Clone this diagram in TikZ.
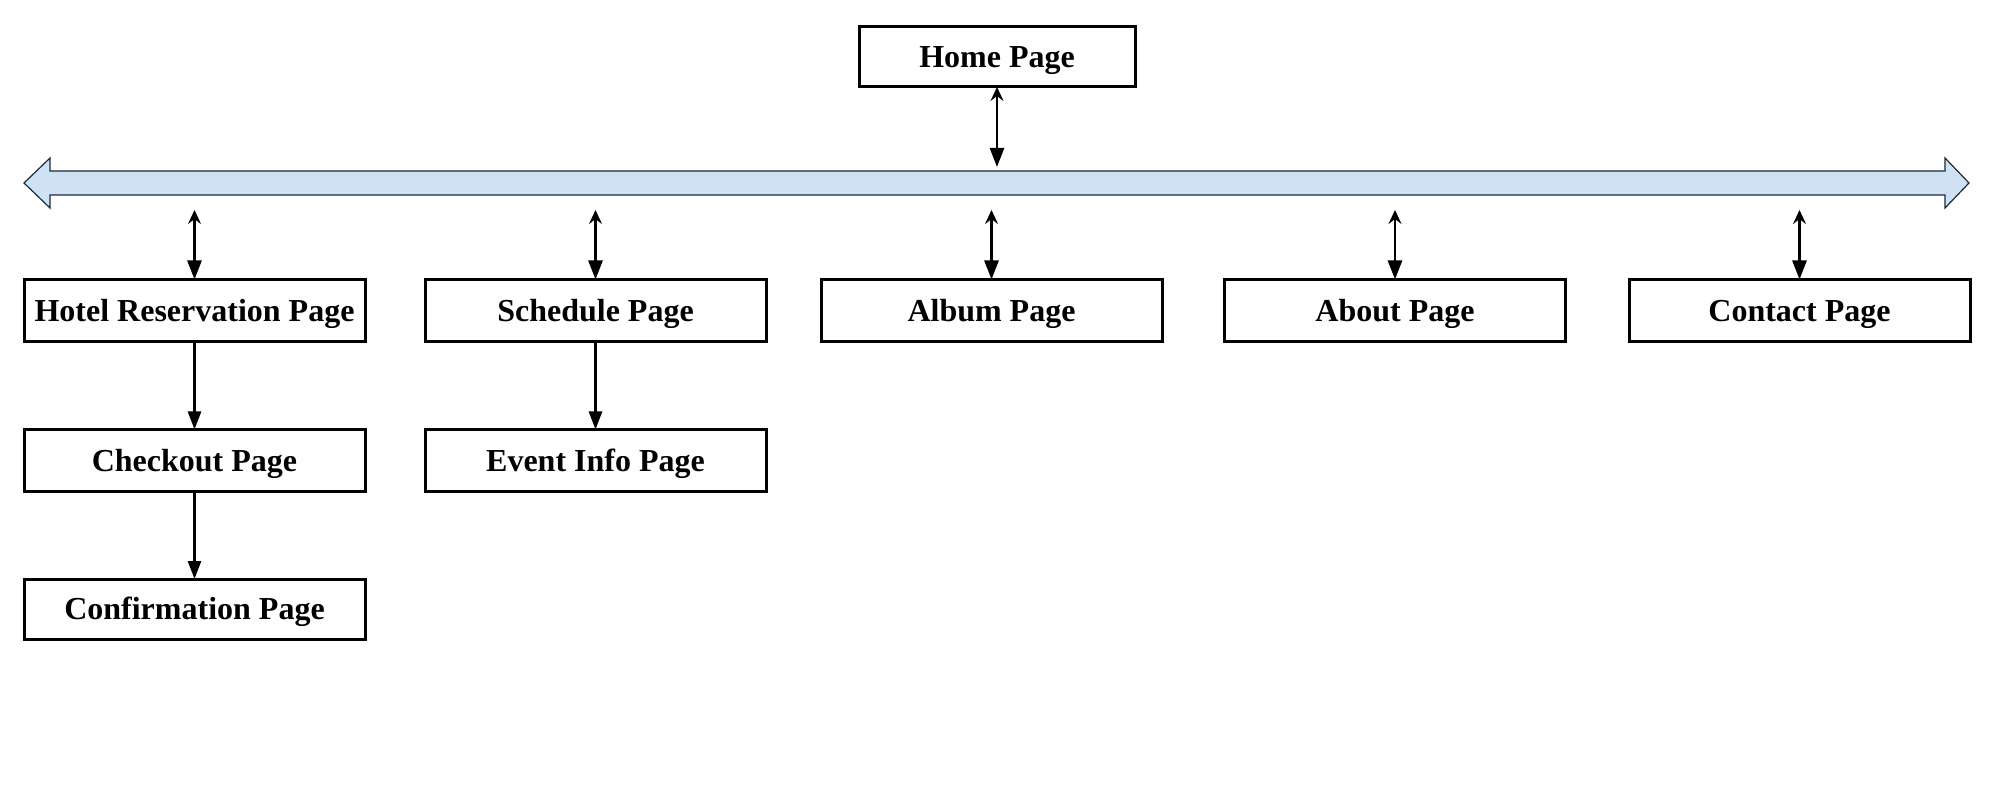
\documentclass[tikz,border=0pt]{standalone}
\usepackage{fontspec}
\setmainfont{Liberation Serif}
\usetikzlibrary{arrows.meta}
\definecolor{busfill}{HTML}{CFE2F3}
\definecolor{busline}{HTML}{1B2A38}
\begin{document}
\begin{tikzpicture}[x=0.5pt,y=-0.5pt,
  page/.style={draw, line width=1.5pt, minimum width=170.5pt, minimum height=31pt,
    inner sep=0pt, outer sep=0pt, text height=10.6pt, text depth=0pt,
    font=\fontsize{16}{19}\selectfont\bfseries},
  link/.style={line width=1.3pt, -{Triangle[length=9pt,width=6.5pt]}},
  twoway/.style={line width=1.3pt,
    {Stealth[length=7pt,width=6.5pt,inset=2.5pt]}-{Triangle[length=9.5pt,width=7pt]}},
]
\useasboundingbox (0,0) rectangle (1994,802);

% navigation bus
\draw[fill=busfill, draw=busline, line width=0.6pt]
  (24,183) -- (50,158) -- (50,171) -- (1945,171) -- (1945,158) -- (1969,183)
  -- (1945,208) -- (1945,195) -- (50,195) -- (50,208) -- cycle;
\coordinate (busTop) at (0,167);
\coordinate (tap) at (0,210);

% pages
\node[page, minimum width=138pt, minimum height=30pt] (home) at (997,57) {Home Page};
\node[page] (hotel)    at (194.5,310.5) {Hotel Reservation Page};
\node[page] (schedule) at (595.5,310.5) {Schedule Page};
\node[page] (album)    at (991.5,310.5) {Album Page};
\node[page] (about)    at (1395,310.5)  {About Page};
\node[page] (contact)  at (1799.5,310.5) {Contact Page};
\node[page] (checkout) at (194.5,460.5) {Checkout Page};
\node[page] (event)    at (595.5,460.5) {Event Info Page};
\node[page, minimum height=30pt] (confirm) at (194.5,609) {Confirmation Page};

% links to and from the bus
\draw[twoway] (home.south) -- (home.south |- busTop);
\foreach \p in {hotel,schedule,album,about,contact}
  \draw[twoway] (\p.north |- tap) -- (\p.north);

% sub-page links
\draw[link] (hotel.south) -- (checkout.north);
\draw[link] (checkout.south) -- (confirm.north);
\draw[link] (schedule.south) -- (event.north);
\end{tikzpicture}
\end{document}
